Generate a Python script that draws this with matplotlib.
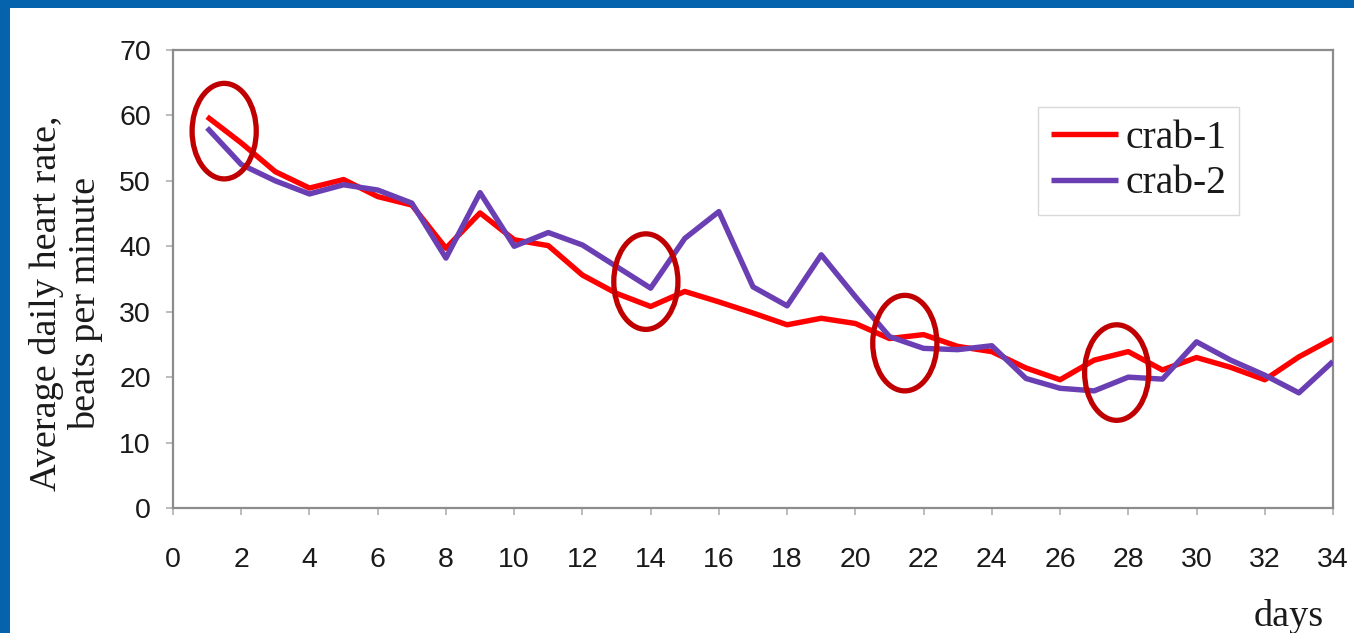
import matplotlib
matplotlib.use("Agg")
import matplotlib.pyplot as plt
from matplotlib.patches import Ellipse, Rectangle

# Daily data
days = list(range(1, 35))
crab1 = [59.8, 55.8, 51.4, 48.9, 50.2, 47.6, 46.3, 39.7, 45.1, 41.0,
         40.1, 35.6, 32.8, 30.8, 33.1, 31.5, 29.8, 28.0, 29.0, 28.2,
         25.9, 26.5, 24.7, 23.9, 21.4, 19.6, 22.6, 23.9, 21.1, 23.0,
         21.5, 19.6, 23.1, 25.9]
crab2 = [58.1, 52.5, 50.0, 48.0, 49.4, 48.6, 46.6, 38.2, 48.2, 40.0,
         42.1, 40.2, 36.9, 33.6, 41.2, 45.3, 33.8, 30.9, 38.7, 32.3,
         26.2, 24.4, 24.2, 24.8, 19.8, 18.3, 17.9, 20.0, 19.7, 25.4,
         22.6, 20.3, 17.6, 22.4]
series_labels = ["crab-1", "crab-2"]

# Highlighted spots (day, beats per minute)
mark_days = [1.5, 13.86, 21.45, 27.66]
mark_rates = [57.6, 34.6, 25.2, 20.7]

x_ticks = list(range(0, 35, 2))
y_ticks = list(range(0, 71, 10))

SANS = "Liberation Sans"
SERIF = "Liberation Serif"

fig = plt.figure(figsize=(13.54, 6.33), dpi=100)
fig.patch.set_facecolor("white")

# Blue frame strips along top and left edges
blue = "#0563AE"
fig.patches.append(Rectangle((0, 1 - 8 / 633), 1, 8 / 633, transform=fig.transFigure,
                             facecolor=blue, edgecolor="none", zorder=0))
fig.patches.append(Rectangle((0, 0), 10 / 1354, 1, transform=fig.transFigure,
                             facecolor=blue, edgecolor="none", zorder=0))

ax = fig.add_axes([173 / 1354, 1 - 508 / 633, (1333 - 173) / 1354, (508 - 50) / 633])

ax.plot(days, crab1, color="#FF0000", lw=3.9, label=series_labels[0],
        solid_joinstyle="round", solid_capstyle="butt", zorder=3)
ax.plot(days, crab2, color="#6B3FB4", lw=3.9, label=series_labels[1],
        solid_joinstyle="round", solid_capstyle="butt", zorder=4)

for d, r in zip(mark_days, mark_rates):
    ax.add_patch(Ellipse((d, r), width=1.88, height=14.6, fill=False,
                         edgecolor="#C00000", lw=3.8, zorder=5, clip_on=False))

ax.set_xlim(0, 34)
ax.set_ylim(0, 70)
ax.set_xticks(x_ticks)
ax.set_yticks(y_ticks)

for s in ax.spines.values():
    s.set_color("#8C8C8C")
    s.set_linewidth(1.6)

ax.tick_params(axis="both", direction="out", length=5, width=1.2, color="#B0B0B0",
               labelsize=20.5, labelcolor="#1A1A1A")
ax.tick_params(axis="x", pad=23)
ax.tick_params(axis="y", pad=11)
for lbl in ax.get_xticklabels() + ax.get_yticklabels():
    lbl.set_fontfamily(SANS)

fig.text(66 / 1354, 1 - 303 / 633, "Average daily heart rate,\nbeats per minute",
         rotation=90, ha="center", va="center", multialignment="center",
         fontsize=27.5, family=SERIF, color="#1A1A1A", linespacing=1.12)

fig.text(1289 / 1354, 7 / 633, "days", ha="center", va="baseline",
         fontsize=27.5, family=SERIF, color="#1A1A1A")

leg = ax.legend(loc="upper right", bbox_to_anchor=((1239 - 173) / 1160, 1 - (107 - 50) / 458),
                borderaxespad=0, prop={"family": SERIF, "size": 28.5},
                handlelength=1.7, handletextpad=0.18, labelspacing=0.22,
                borderpad=0.32, frameon=True, fancybox=False)
leg.get_frame().set_edgecolor("#D0D0D0")
leg.get_frame().set_linewidth(1.0)
for t in leg.get_texts():
    t.set_color("#1A1A1A")

fig.savefig("out.png", dpi=100, facecolor="white")
